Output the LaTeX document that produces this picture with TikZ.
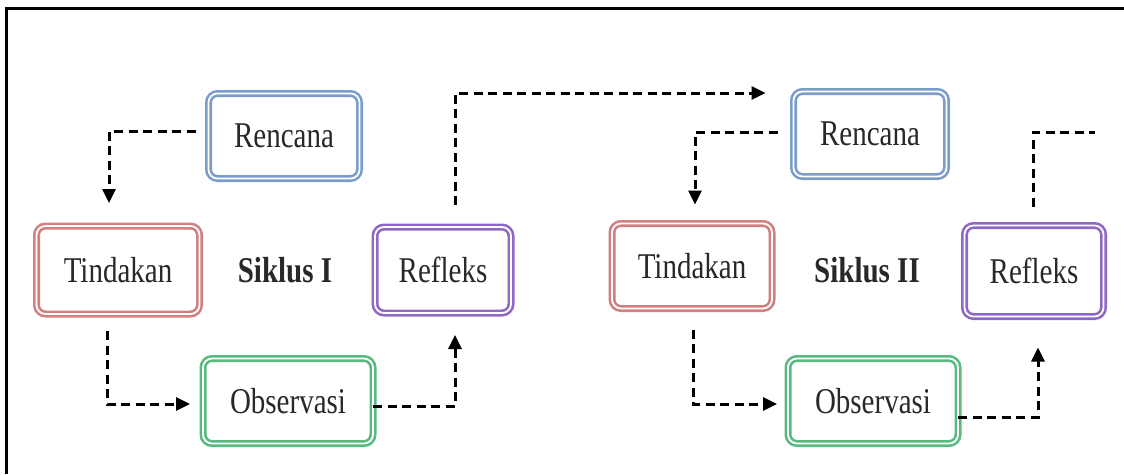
\documentclass[tikz,border=0pt]{standalone}
\usepackage{fontspec}
\setmainfont{Liberation Serif}
\usetikzlibrary{arrows.meta,calc}
\definecolor{cblue}{RGB}{122,156,200}
\definecolor{cred}{RGB}{208,128,128}
\definecolor{cpurple}{RGB}{142,104,196}
\definecolor{cgreen}{RGB}{88,186,128}
\definecolor{ctext}{RGB}{40,40,40}
\newcommand{\stx}[1]{\scalebox{1}[1.25]{#1}}
\tikzset{
  boxnode/.style={rounded corners=9pt, line width=2.6pt, double=white, double distance=1.8pt,
    inner sep=0pt, outer sep=0pt, align=center, text=ctext, font=\fontsize{29}{30}\selectfont},
  lbl/.style={inner sep=0pt, text=ctext, font=\fontsize{29}{30}\selectfont\bfseries},
  dline/.style={line width=3pt, dash pattern=on 9pt off 5.5pt},
  dar/.style={dline, -{Triangle[length=14pt,width=13pt]}}
}
\begin{document}
\begin{tikzpicture}[x=1pt,y=-1pt]
\useasboundingbox (0,0) rectangle (1124,474);
\draw[line width=3pt] (6,474) -- (6,8) -- (1124,8);
% cycle I
\node[boxnode, draw=cblue, minimum width=151pt, minimum height=85pt] (r1) at (284,136) {\stx{Rencana}};
\node[boxnode, draw=cred, minimum width=163pt, minimum height=88pt] (t1) at (118,270) {\stx{Tindakan}};
\node[boxnode, draw=cpurple, minimum width=136pt, minimum height=86pt] (f1) at (443,270) {\stx{Refleks}};
\node[boxnode, draw=cgreen, minimum width=170pt, minimum height=85pt] (o1) at (288,401) {\stx{Observasi}};
\node[lbl] (s1) at (285,270) {\stx{Siklus I}};
% cycle II
\node[boxnode, draw=cblue, minimum width=153pt, minimum height=85pt] (r2) at (870,134) {\stx{Rencana}};
\node[boxnode, draw=cred, minimum width=160pt, minimum height=85pt] (t2) at (692,266) {\stx{Tindakan}};
\node[boxnode, draw=cpurple, minimum width=139pt, minimum height=91pt] (f2) at (1034,271) {\stx{Refleks}};
\node[boxnode, draw=cgreen, minimum width=170pt, minimum height=85pt] (o2) at (873,401) {\stx{Observasi}};
\node[lbl] (s2) at (867,270) {\stx{Siklus II}};
\coordinate (out) at (1095,132);
% connectors cycle I
\draw[dar, shorten <=13pt, shorten >=23pt] ($(r1.west)+(0,-5)$) -| ($(t1.north)+(-9,0)$);
\draw[dar, shorten <=17pt, shorten >=13pt] ($(t1.south)+(-11,0)$) |- ($(o1.west)+(0,3)$);
\draw[dar, shorten >=22pt] ($(o1.east)+(0,5)$) -| ($(f1.south)+(12,0)$);
\draw[dar, shorten <=22pt, shorten >=28pt] ($(f1.north)+(12,0)$) |- ($(r2.west)+(0,-41)$);
% connectors cycle II
\draw[dar, shorten <=16pt, shorten >=19pt] ($(r2.west)+(0,-2)$) -| ($(t2.north)+(3,0)$);
\draw[dar, shorten <=21pt, shorten >=11pt] ($(t2.south)+(1,0)$) |- ($(o2.west)+(0,3)$);
\draw[dar, shorten >=31pt] ($(o2.east)+(0,16)$) -| ($(f2.south)+(4,0)$);
\draw[dline, shorten <=19pt] ($(f2.north)+(-1,0)$) |- (out);
\end{tikzpicture}
\end{document}
